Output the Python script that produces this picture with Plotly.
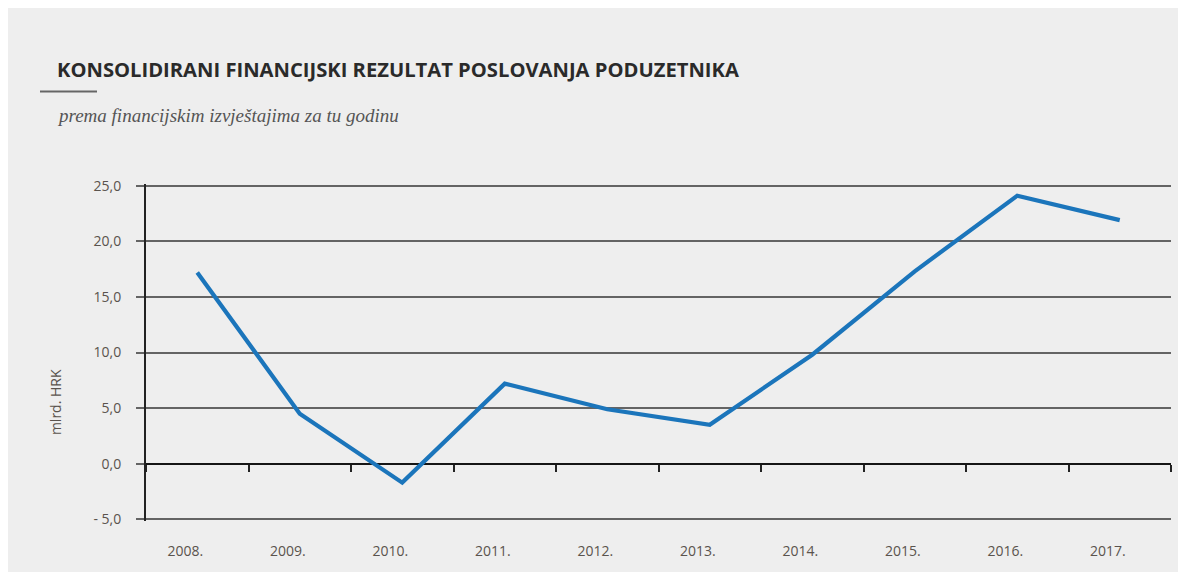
import plotly.graph_objects as go

years = ["2008.", "2009.", "2010.", "2011.", "2012.", "2013.", "2014.", "2015.", "2016.", "2017."]
values = [17.2, 4.5, -1.7, 7.2, 4.9, 3.5, 9.8, 17.3, 24.1, 21.9]
y_ticks = [-5, 0, 5, 10, 15, 20, 25]
y_tick_labels = ["- 5,0", "0,0", "5,0", "10,0", "15,0", "20,0", "25,0"]

title_text = "KONSOLIDIRANI FINANCIJSKI REZULTAT POSLOVANJA PODUZETNIKA"
subtitle_text = "prema financijskim izvještajima za tu godinu"
y_title = "mlrd. HRK"

# the page body adds an 8px margin; work in reference pixel coords minus that offset
OFF = 8
PAD = 0.15  # small range padding so the edge gridlines are drawn
Y0, Y1 = y_ticks[0] - PAD, y_ticks[-1] + PAD
unit_px = (519 - 186) / (y_ticks[-1] - y_ticks[0])
pad_px = PAD * unit_px

W, H = 1186 - OFF, 572 - OFF
ML, MR = 146 - OFF, 1186 - 1171
MT = 186 - OFF - pad_px
MB = 572 - 519 - pad_px
PW, PH = W - ML - MR, H - MT - MB


def px(x):
    return (x - OFF - ML) / PW


def py(y):
    return (H - MB - (y - OFF)) / PH


fig = go.Figure()
fig.add_trace(go.Scatter(
    x=years, y=values, mode="lines",
    line=dict(color="#1b75bb", width=4.2),
    hoverinfo="skip", showlegend=False,
))
# carrier for the tick-only axis on the zero line
fig.add_trace(go.Scatter(x=[None], y=[None], xaxis="x2", showlegend=False, hoverinfo="skip"))

fig.add_hline(y=15, line=dict(color="#151515", width=1.6), layer="below")

n = len(years)
tick_font = dict(family="Open Sans", size=14, color="#5a534d")
fig.update_layout(
    width=W, height=H,
    margin=dict(l=ML, r=MR, t=MT, b=MB),
    paper_bgcolor="#eeeeee",
    plot_bgcolor="rgba(0,0,0,0)",
    title=dict(
        text=title_text, x=(57 - OFF) / W, xanchor="left", xref="container",
        y=1 - (70 - OFF) / H, yanchor="middle", yref="container",
        font=dict(family="Open Sans", size=20.2, color="#2a2a2a", weight=700),
    ),
    xaxis=dict(
        type="category", range=[-0.5, n - 0.5],
        showgrid=False, zeroline=False, showline=False,
        ticks="", ticklabelstandoff=int(round(22 - pad_px)), ticklabelshift=-12,
        tickfont=tick_font,
    ),
    xaxis2=dict(
        overlaying="x", anchor="free", position=(0 - Y0) / (Y1 - Y0),
        range=[-0.5, n - 0.5],
        tickvals=[i - 0.5 for i in range(n + 1)],
        showticklabels=False, ticks="outside", ticklen=7,
        tickcolor="#222", tickwidth=1.6,
        showgrid=False, zeroline=False, showline=False,
    ),
    yaxis=dict(
        range=[Y0, Y1], tickvals=y_ticks, ticktext=y_tick_labels,
        showgrid=True, gridcolor="#646464", gridwidth=2.4,
        zeroline=True, zerolinecolor="#151515", zerolinewidth=1.8,
        showline=True, linecolor="#222", linewidth=2,
        ticks="outside", ticklen=8, tickcolor="#646464", tickwidth=2.4,
        ticklabelstandoff=12,
        tickfont=tick_font,
    ),
    shapes=[
        dict(type="rect", xref="paper", yref="paper", layer="above",
             x0=px(0), x1=px(1200), y0=py(12), y1=py(-10),
             fillcolor="white", line=dict(width=0)),
        dict(type="line", xref="paper", yref="paper",
             x0=px(40), x1=px(97), y0=py(92), y1=py(92),
             line=dict(color="#666", width=2)),
    ],
    annotations=[
        dict(text=subtitle_text, xref="paper", yref="paper",
             x=px(55), y=py(116), xanchor="left", yanchor="middle", showarrow=False,
             font=dict(family="Liberation Serif", size=19, color="#555", style="italic")),
        dict(text=y_title, xref="paper", yref="paper",
             x=px(55), y=py(402), xanchor="center", yanchor="middle", showarrow=False,
             textangle=-90,
             font=dict(family="Open Sans", size=14, color="#5a534d")),
    ],
)

fig.write_html("out.html")
